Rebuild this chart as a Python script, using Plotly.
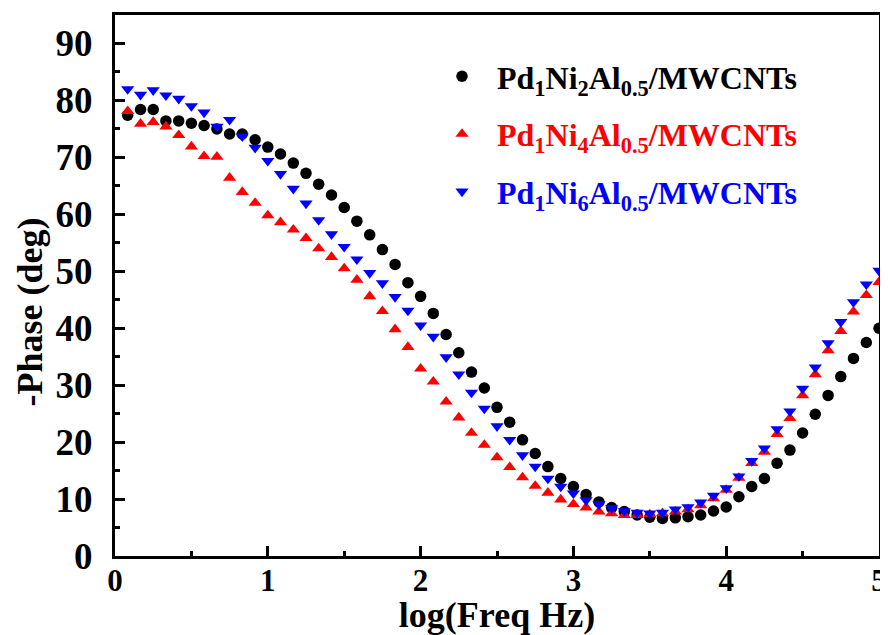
import plotly.graph_objects as go

# log(Freq Hz) positions (12 points per decade)
log_freq = [0.083, 0.167, 0.250, 0.333, 0.417, 0.500, 0.583, 0.667, 0.750, 0.833,
            0.917, 1.000, 1.083, 1.167, 1.250, 1.333, 1.417, 1.500, 1.583, 1.667,
            1.750, 1.833, 1.917, 2.000, 2.083, 2.167, 2.250, 2.333, 2.417, 2.500,
            2.583, 2.667, 2.750, 2.833, 2.917, 3.000, 3.083, 3.167, 3.250, 3.333,
            3.417, 3.500, 3.583, 3.667, 3.750, 3.833, 3.917, 4.000, 4.083, 4.167,
            4.250, 4.333, 4.417, 4.500, 4.583, 4.667, 4.750, 4.833, 4.917, 5.000]

phase_ni2 = [77.4, 78.4, 78.4, 76.4, 76.4, 76.0, 75.6, 75.0, 74.1, 74.1,
             73.1, 71.8, 70.6, 69.0, 67.2, 65.3, 63.4, 61.2, 58.8, 56.4,
             53.8, 51.2, 48.0, 45.6, 42.6, 38.9, 35.7, 32.3, 29.5, 26.1,
             23.5, 20.4, 18.0, 15.7, 13.6, 12.2, 10.8, 9.5, 8.5, 7.8,
             7.2, 6.8, 6.6, 6.7, 6.9, 7.2, 7.9, 8.6, 10.4, 12.2,
             13.6, 16.3, 18.6, 21.6, 24.9, 28.2, 31.5, 34.7, 37.5, 40.0]

phase_ni4 = [78.1, 75.9, 76.2, 75.4, 73.9, 71.9, 70.2, 70.1, 66.4, 63.9,
             62.0, 59.8, 58.6, 57.3, 55.8, 54.0, 52.5, 50.5, 48.5, 45.6,
             43.0, 39.8, 36.7, 32.9, 30.6, 27.1, 24.3, 21.6, 19.5, 17.3,
             15.6, 13.8, 12.3, 11.1, 9.9, 9.1, 8.5, 7.8, 7.5, 7.2,
             7.2, 7.3, 7.5, 7.8, 8.2, 8.9, 10.1, 11.6, 13.7, 16.3,
             18.3, 21.4, 24.2, 28.2, 31.9, 36.1, 39.5, 42.9, 45.8, 48.1]

phase_ni6 = [82.0, 81.0, 81.8, 80.9, 80.3, 79.0, 77.9, 75.4, 76.6, 73.7,
             71.7, 69.4, 67.1, 64.5, 61.9, 59.0, 56.5, 54.3, 52.1, 49.7,
             47.9, 45.5, 43.1, 40.5, 38.5, 34.9, 31.9, 28.7, 25.9, 22.8,
             20.4, 17.7, 15.7, 13.6, 12.2, 11.0, 9.8, 9.1, 8.4, 7.9,
             7.6, 7.5, 7.6, 8.2, 8.6, 9.4, 10.6, 11.9, 14.0, 16.7,
             18.9, 22.3, 25.4, 29.4, 33.1, 37.4, 41.1, 44.6, 47.7, 50.1]

names = ["Pd<sub>1</sub>Ni<sub>2</sub>Al<sub>0.5</sub>/MWCNTs",
         "Pd<sub>1</sub>Ni<sub>4</sub>Al<sub>0.5</sub>/MWCNTs",
         "Pd<sub>1</sub>Ni<sub>6</sub>Al<sub>0.5</sub>/MWCNTs"]
colors = ["#000000", "#ff0000", "#0000ff"]
symbols = ["circle", "triangle-up", "triangle-down"]
series = [phase_ni2, phase_ni4, phase_ni6]

FONT = "Liberation Serif, Times New Roman, serif"

# The page body has an 8px margin: the figure is sized/offset to compensate.
W, H = 880, 627
PL, PT, PR, PB = 107, 7, 871, 548   # plot-area edges in figure pixels
PW, PH = PR - PL, PB - PT

def px_x(x):
    return (x - PL) / PW

def px_y(y):
    return (PB - y) / PH

fig = go.Figure()
for name, col, sym, ys, g in zip(names, colors, symbols, series, ["a", "b", "c"]):
    fig.add_trace(go.Scatter(
        x=log_freq, y=ys, mode="markers", legendgroup=g,
        name=f'<span style="color:{col}">{name}</span>',
        marker=dict(symbol=sym, size=11.5, color=col, line=dict(width=0)),
    ))

axis_common = dict(
    showline=True, linecolor="black", linewidth=3, mirror=True,
    ticks="inside", ticklen=10, tickwidth=3, tickcolor="black",
    showgrid=False, zeroline=False, automargin=False,
)

fig.update_layout(
    width=W, height=H,
    margin=dict(l=PL, r=W - PR, t=PT, b=H - PB, pad=0),
    paper_bgcolor="white", plot_bgcolor="white",
    showlegend=True,
    legend=dict(
        x=px_x(419), y=px_y(41), xanchor="left", yanchor="top",
        bgcolor="rgba(0,0,0,0)", borderwidth=0,
        font=dict(family=FONT, size=32, color="black", weight="bold"),
        tracegroupgap=13, itemsizing="trace", itemwidth=60,
    ),
    xaxis=dict(range=[0, 5], dtick=1, tick0=0,
               minor=dict(dtick=0.5, ticks="inside", ticklen=5, tickwidth=3, tickcolor="black"),
               ticklabelstandoff=-5,
               tickfont=dict(family=FONT, size=31, color="black", weight="bold"),
               title=dict(text="log(Freq Hz)", standoff=9,
                          font=dict(family=FONT, size=36, color="black", weight="bold")),
               **axis_common),
    yaxis=dict(range=[0, 95], dtick=10, tick0=0,
               minor=dict(dtick=5, ticks="inside", ticklen=5, tickwidth=3, tickcolor="black"),
               ticklabelstandoff=12,
               tickfont=dict(family=FONT, size=37, color="black", weight="bold"),
               **axis_common),
    annotations=[dict(
        text="-Phase (deg)", textangle=-90, xref="paper", yref="paper",
        x=px_x(21.5), y=px_y(304), xanchor="center", yanchor="middle",
        showarrow=False,
        font=dict(family=FONT, size=36, color="black", weight="bold"),
    )],
)

fig.write_html("out.html")
